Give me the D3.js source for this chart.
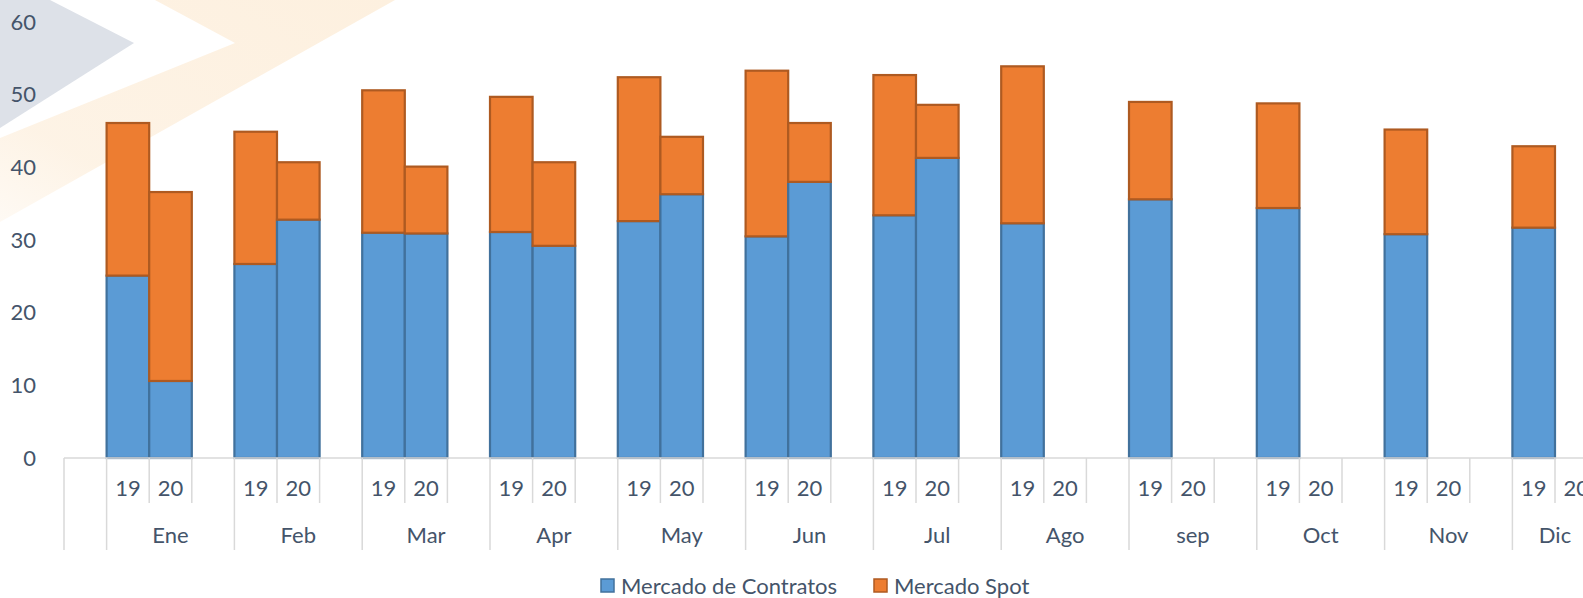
<!DOCTYPE html>
<html>
<head>
<meta charset="utf-8">
<script src="https://cdn.jsdelivr.net/npm/d3@7"></script>
<style>
  html, body { margin: 0; padding: 0; background: #fff; overflow: hidden; }
  svg text { font-family: Lato, "Open Sans", sans-serif; fill: #44546A; }
</style>
</head>
<body>
<div id="chart"></div>
<script>
// months and years of the two-level category axis
var months = ["Ene", "Feb", "Mar", "Apr", "May", "Jun", "Jul", "Ago", "sep", "Oct", "Nov", "Dic"];
var years = ["19", "20"];

// Mercado de Contratos / Mercado Spot, by month (2020 only has Ene-Jul)
var contratos19 = [25.1, 26.7, 31.0, 31.1, 32.6, 30.5, 33.4, 32.3, 35.6, 34.4, 30.8, 31.7];
var spot19 = [21.0, 18.2, 19.6, 18.6, 19.8, 22.8, 19.3, 21.6, 13.4, 14.4, 14.4, 11.2];
var contratos20 = [10.6, 32.8, 30.9, 29.2, 36.3, 38.0, 41.3];
var spot20 = [26.0, 7.9, 9.2, 11.5, 7.9, 8.1, 7.3];

var yTicks = [0, 10, 20, 30, 40, 50, 60];
var seriesNames = ["Mercado de Contratos", "Mercado Spot"];
var colors = ["#5B9BD5", "#ED7D31"];
var borders = ["#41719C", "#AE5A21"];

var W = 1583, H = 598;
var axisY = 458, slotW = 42.6, left = 64;
var fs = "22px";

// one leading blank slot, then for every month: 19, 20 and a blank spacer (none after Dic)
var slots = [{id: "lead", month: null, year: ""}];
months.forEach(function(m, i) {
    years.forEach(function(yr) { slots.push({id: m + yr, month: m, year: yr}); });
    if (i < months.length - 1) slots.push({id: m + "_", month: m, year: ""});
});

var rows = [];
months.forEach(function(m, i) {
    rows.push({id: m + "19", c: contratos19[i], s: spot19[i]});
    if (i < contratos20.length) rows.push({id: m + "20", c: contratos20[i], s: spot20[i]});
});

var x = d3.scaleBand()
        .domain(slots.map(function(d) { return d.id; }))
        .range([left, left + slots.length * slotW])
        .padding(0);

var y = d3.scaleLinear()
        .domain([0, 60])
        .range([axisY, 22]);

var svg = d3.select("#chart").append("svg")
        .attr("width", W)
        .attr("height", H);

// faint watermark in the top-left corner
var defs = svg.append("defs");
var grad = defs.append("linearGradient")
        .attr("id", "fade")
        .attr("x1", "1").attr("y1", "0").attr("x2", "0").attr("y2", "1");
grad.append("stop").attr("offset", "0").attr("stop-color", "#FDF0DF").attr("stop-opacity", 1);
grad.append("stop").attr("offset", "0.75").attr("stop-color", "#FDF0DF").attr("stop-opacity", 0.8);
grad.append("stop").attr("offset", "1").attr("stop-color", "#FDF0DF").attr("stop-opacity", 0.35);

svg.append("polygon")
        .attr("points", "0,0 50,0 134,43 0,128")
        .attr("fill", "#DDE1E8");
svg.append("polygon")
        .attr("points", "155,0 395,0 0,222 0,138 235,43")
        .attr("fill", "url(#fade)");

// stacked bars
var bars = svg.append("g").attr("class", "bars");
rows.forEach(function(r) {
    var parts = [[0, r.c], [r.c, r.c + r.s]];
    parts.forEach(function(p, k) {
        bars.append("rect")
            .attr("x", x(r.id))
            .attr("y", y(p[1]))
            .attr("width", x.bandwidth())
            .attr("height", y(p[0]) - y(p[1]))
            .attr("fill", colors[k])
            .attr("stroke", borders[k])
            .attr("stroke-width", 2.2);
    });
});

// y axis labels only, no line or ticks
var yAxis = d3.axisLeft(y).tickValues(yTicks).tickSize(0).tickPadding(0);
svg.append("g")
        .attr("class", "y axis")
        .attr("transform", "translate(36,0)")
        .call(yAxis)
        .call(function(g) { g.select(".domain").remove(); })
        .selectAll("text")
        .attr("font-size", fs)
        .attr("font-family", "Lato, sans-serif")
        .attr("fill", "#44546A");

// category axis: line, inner ticks, group ticks
var xa = svg.append("g").attr("class", "x axis");
var gridCol = "#D9D9D9";
var xEnd = left + slots.length * slotW;

xa.append("line")
        .attr("x1", left).attr("x2", xEnd)
        .attr("y1", axisY).attr("y2", axisY)
        .attr("stroke", gridCol).attr("stroke-width", 1.5);

slots.forEach(function(s, i) {
    var groupEdge = (i === 0) || (s.year === "19");
    xa.append("line")
        .attr("x1", x(s.id)).attr("x2", x(s.id))
        .attr("y1", axisY).attr("y2", groupEdge ? 550 : 503)
        .attr("stroke", gridCol).attr("stroke-width", 1.5);
    if (s.year) {
        xa.append("text")
            .attr("x", x(s.id) + x.bandwidth() / 2)
            .attr("y", 496)
            .attr("text-anchor", "middle")
            .attr("font-size", fs)
            .text(s.year);
    }
});

months.forEach(function(m, i) {
    var lastId = i < months.length - 1 ? m + "_" : m + "20";
    var x0 = x(m + "19"), x1 = x(lastId) + x.bandwidth();
    xa.append("text")
        .attr("x", (x0 + x1) / 2)
        .attr("y", 543)
        .attr("text-anchor", "middle")
        .attr("font-size", fs)
        .text(m);
});

// legend
var legendX = [601, 874];
var legend = svg.append("g").attr("class", "legend");
seriesNames.forEach(function(name, k) {
    legend.append("rect")
        .attr("x", legendX[k]).attr("y", 579)
        .attr("width", 13).attr("height", 13)
        .attr("fill", colors[k])
        .attr("stroke", borders[k])
        .attr("stroke-width", 1.5);
    legend.append("text")
        .attr("x", legendX[k] + 20)
        .attr("y", 594)
        .attr("font-size", fs)
        .text(name);
});
</script>
</body>
</html>
